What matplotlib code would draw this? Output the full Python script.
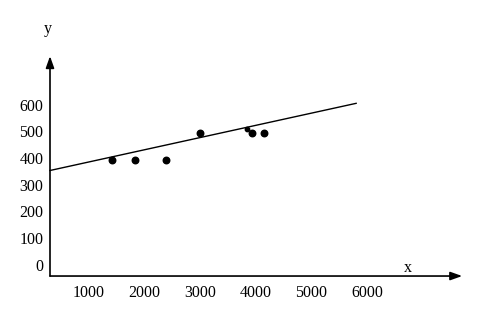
import matplotlib
matplotlib.use("Agg")
import matplotlib.pyplot as plt

# data
x_vals = [1420, 1830, 2400, 3000, 3940, 4140]
y_vals = [400, 400, 400, 500, 500, 500]
small_x = [3840]
small_y = [515]
fit_x = [314, 5800]
fit_y = [361, 613]
x_ticks = [1000, 2000, 3000, 4000, 5000, 6000]
y_ticks = [0, 100, 200, 300, 400, 500, 600]

plt.rcParams["font.family"] = ["Liberation Serif", "DejaVu Serif"]
FS = 11.5

fig = plt.figure(figsize=(4.89, 3.13), dpi=100)
ax = fig.add_axes([0, 0, 1, 1])
ax.set_xlim(-582, 8181)
ax.set_ylim(-173.7, 1000.7)
ax.axis("off")

# axes with arrow heads
ax.annotate("", xy=(7700, -35), xytext=(314, -35),
            arrowprops=dict(arrowstyle="-|>,head_length=0.7,head_width=0.25",
                            color="black", lw=1.2, shrinkA=0, shrinkB=0))
ax.annotate("", xy=(314, 790), xytext=(314, -35),
            arrowprops=dict(arrowstyle="-|>,head_length=0.7,head_width=0.25",
                            color="black", lw=1.2, shrinkA=0, shrinkB=0))

# fitted line and points
ax.plot(fit_x, fit_y, color="black", lw=1.0)
ax.scatter(x_vals, y_vals, s=22, color="black", zorder=3)
ax.scatter(small_x, small_y, s=10, color="black", zorder=3)

# tick labels
for v in y_ticks:
    ax.text(197, v, str(v), ha="right", va="center", fontsize=FS)
for v in x_ticks:
    ax.text(v, -99, str(v), ha="center", va="center", fontsize=FS)

ax.text(278, 892, "y", ha="center", va="center", fontsize=FS)
ax.text(6729, -5, "x", ha="center", va="center", fontsize=FS)

fig.savefig("out.png", dpi=100)
